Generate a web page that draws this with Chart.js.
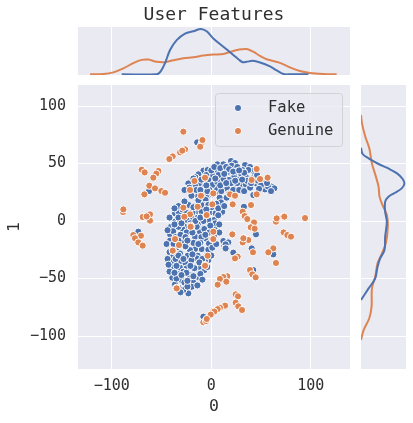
<!DOCTYPE html>
<html>
<head>
<meta charset="utf-8">
<title>User Features</title>
<script src="https://cdn.jsdelivr.net/npm/chart.js@4/dist/chart.umd.min.js"></script>
<style>
  body { margin: 0; background: #fff; width: 413px; height: 423px; overflow: hidden; position: relative; }
  canvas { position: absolute; }
  #top-kde { left: 78px; top: 0; }
  #main { left: 0; top: 85px; }
  #right-kde { left: 361px; top: 85px; }
</style>
</head>
<body>
<canvas id="top-kde" width="272" height="75"></canvas>
<canvas id="main" width="350" height="338"></canvas>
<canvas id="right-kde" width="45" height="284"></canvas>
<script>
const chartTitle = "User Features";
const seriesNames = ["Fake", "Genuine"];
const seriesColors = ["#4C72B0", "#DD8452"];
const xTicks = [-100, 0, 100];
const yTicks = [-100, -50, 0, 50, 100];
const xLabel = "0";
const yLabel = "1";

// t-SNE points as [x, y]
const fakePoints = [
  [6.1,49.3],[12.1,49.3],[19.8,52.2],[23.8,50.4],[20.5,48.1],[26.1,47],[33.9,48.7],[38.9,47],[42.2,43.5],[37.2,44.4],
  [31.2,44.4],[-8,43.8],[-3.7,44.4],[-13,40.6],[5.4,43.8],[10.4,42.3],[17.1,42.9],[23.1,38.6],[17.8,35.7],[12.1,36.5],
  [7.1,40],[1,39.4],[-3,35.7],[-7,31.9],[-12.4,32.7],[-16.4,30.7],[-23.1,32.7],[-19,25.5],[-13.7,21.2],[-4.6,21.2],
  [-5.7,18.3],[1,23.2],[5.4,28.4],[1,31.3],[13,30.7],[8,23.2],[8.4,20.3],[15.4,20.3],[9.7,16.2],[28.8,36.5],
  [29.9,31.3],[24.5,29.9],[34.6,31.9],[34.6,38.6],[43.9,40],[44.9,32.7],[53.3,34.8],[53.9,27.5],[60.6,29.9],[63.3,28.4],
  [42.2,22.6],[32.8,12.4],[-36.5,6.7],[-32.5,7.5],[-40.5,-4.1],[-30.5,-0.6],[-36.5,-0.6],[-13.7,8.1],[-9.7,8.1],[-19,7.5],
  [-13.7,2.9],[-6.4,13.9],[-1.3,7.5],[4.4,6.7],[3,0.9],[-3,0.9],[-8,0],[-13.7,-2.9],[3,-6.4],[-8,-6.4],
  [-26.4,-5],[-19.7,2.3],[-40.5,-5],[-41.5,-11.6],[-41.5,-17.1],[-38.2,-8.7],[-29.1,-7],[-24.8,-9.9],[-29.8,-12.8],[-23.1,-18],
  [-16.4,-13.7],[-11.4,-9.3],[-14.7,-5],[-7,-7],[-5.7,-15.1],[-2.3,-19.5],[1,-23.8],[-9.7,-24.4],[-16.4,-24.4],[-21.4,-25.3],
  [-31.5,-28.2],[-23.8,-30.2],[-13.7,-30.2],[-4.7,-29.6],[-3,-34],[-6.4,-34.8],[-14.7,-32.5],[-39.8,-36],[-31.5,-36],[-25.8,-36.9],
  [-39.2,-40.6],[-31.5,-40.6],[-24.8,-41.2],[-28.1,-44.1],[-39.2,-49.3],[-29.8,-51.4],[-36.5,-55.1],[-27.1,-53.4],[-18.1,-53.4],[-13.7,-48.5],
  [-7,-42.7],[-12.4,-39.8],[-19.7,-57.2],[-23.1,-62.9],[-28.1,-60],[13.1,-21.5],[13.8,-17.4],[22.1,-28.2],[16.4,-18],
  [-16,38],[-10,36],[-5,40],[0,44],[3,47],[9,46],[15,47],[18,45],[25,43],[30,41],[36,35],[41,37],[47,35],[50,31],[57,30],[60,26],
  [20,33],[26,33],[16,28],[6,34],[-2,27],[-8,25],[-15,27],[-20,22],[-10,14],[-15,13],[-23,14],[-29,10],[-33,3],[-25,1],[-21,-2],
  [-16,0],[-11,3],[-5,5],[0,12],[5,15],[4,-2],[8,-10],[-2,-10],[-10,-14],[-20,-5],[-33,-5],[-36,-14],[-28,-18],[-35,-23],[-42,-27],
  [-38,-30],[-26,-22],[-18,-19],[-11,-19],[-3,-25],[3,-14],[-9,-33],[-20,-34],[-17,-41],[-34,-46],[-42,-44],[-22,-47],[-18,-48],[-33,-58],[-11,-46],[-36,-33],
  [-14.2,68.4],[-62.6,26.1],[-73.4,-9.3],[-8,-83.2],[44.9,-11.6],[12.1,-17.4],[17.1,-18.6],[14.4,-20.3],[14.4,-23.8],[1,-23.2],
  [22.1,-27.5],[40.6,-23.8],[62.3,-29],[42.2,-42.6],
  [-27,17],[-33,13],[-37,11],[-42,3],[-44,-8],[-45,-20],[-37,-3],[-31,-12],[-26,-14],[-33,-30],[-44,-33],[-28,-33],[-21,-39],
  [-35,-39],[-43,-38],[-35,-50],[-24,-57],[-31,-62],[-14,-56],[-9,-51],[-4,-40],[0,-30],[5,-20],[8,-3],[11,8],[7,11],[13,13],
  [-3,14],[-13,18],[-4,26],[10,26],[18,24],[22,27],[28,27],[33,26],[39,29],[48,28],[46,40],[33,42],[13,41],[-18,37],[-22,29],[-27,27],
  [-25,7],[-30,-2],[-24,-17],[-38,-20],[-33,-17],[-19,-10],[-13,-20],[-6,-12],[-1,-4],[7,5],[-5,10],[-18,12],[-11,27],[-5,31],
  [4,37],[9,31],[15,33],[24,35],[31,36],[40,33],[56,33],[22,43],[28,44],[-25,-45],[-30,-47],[-37,-45],[-19,-29],[-12,-36],[-24,-52]
];
const genuinePoints = [
  [-17,34.8],[-6.3,37.7],[-21.4,27],[-10.4,22],[2,24],[18.8,23.2],[23.8,22],[21.5,14.5],[1,14.5],[-13.7,12.4],
  [-28.1,11.6],[-21.4,5.8],[-27.1,3.7],[-4.7,5.2],[-20.8,-4],[40.5,35.7],[49,36.5],[56.6,37.7],[45.6,45.2],[39.9,13.9],
  [31.5,8.1],[34.6,3.7],[42.6,-1.5],[40.5,-5.5],[65.7,0],[72.4,3.7],[45.6,23.2],
  [-28.1,77.7],[-9.7,67.6],[-8.9,70.4],[-11.2,64.6],[-26.4,62.3],[-31.4,59.7],[-38.8,56.2],[-42.2,53.9],[-29.2,61.2],
  [-70,44.6],[-67,42.3],[-53.2,43.5],[-55.3,41.2],[-58.3,37.7],[-62.3,30.7],[-56.6,28.4],[-50.2,26.1],[-46.5,24.6],[-67.3,23.2],
  [-88.7,7.8],[-88.4,10.1],[-69,3.5],[-61.6,5.8],[-61.6,0.3],[-65,4],
  [-78.4,-12.2],[-70.7,-12.8],[-76.7,-15],[-73.4,-18.6],[-69,-21.4],
  [-8,-88.1],[-5.3,-87],[-1.3,-81.7],[2,-78.3],[-38.2,-26],[-34.8,-58],[-6.3,-38.3],
  [33.5,4.3],[36.2,1.7],[42.9,-1.2],[39.6,-5.5],[43.6,-6.7],[65,-0.6],[65.7,2.3],[73.4,3.8],[94.2,2.6],
  [72.7,-9.9],[76.4,-12.2],[80.1,-13.6],[21.1,-11.6],[32.2,-14.5],[37.2,-16.5],[31.5,-18.6],[1,-15.7],
  [24.5,-32.5],[26.5,-31],[41.9,-27.2],[62.3,-23.8],[57.3,-27.2],[65,-36.5],[38.9,-42.6],[41.2,-46.4],[44.6,-49],
  [16.1,-48.1],[12.1,-48.7],[8.7,-50.4],[15.1,-52.8],[6.4,-55.4],[24.5,-63.8],[26.8,-65.5],[24.5,-71],[27.1,-74.2],[30.9,-77.4],
  [13.8,-73.6],[8.7,-75.4],[6.4,-76.6],[3,-78.8],[-0.6,-81.4],[-4.6,-85.2],
  [-38.8,-25.8],[-36.5,-15.7],[2,-15.7],[-20.8,-5],[-6.3,-38.9],[-3.7,-30.2],[-34.8,-58.6],[-32.5,-20.9],[2,-9.3],[32.2,-15],[23.8,-32.5]
];

// marginal densities: position and relative height
const fakeTopX = [-90.1,-54.9,-50.9,-46.5,-41.5,-34.8,-26.4,-18.1,-10.4,-4.7,2,12.1,22.1,27.2,31.5,35.5,41.6,49,59,65.7,72.4,79.1,97.5];
const fakeTopH = [1.4,1.4,7.5,24.7,52,72.6,86.3,91,96,91,76,59,41.8,32.9,26.7,27.4,29.5,26,17.8,9.6,2,1.4,1.4];
const genuineTopX = [-121.9,-108.5,-98.5,-88.4,-78.4,-70,-63.3,-54.9,-46.5,-38.2,-28.1,-18.1,-8,2,12.1,18.8,27.2,35.5,42.2,49,55.6,69,79.1,89.1,99.2,112.6,126];
const genuineTopH = [1.4,2,5.5,13.7,24.7,31.5,32.2,27.4,26.7,30.8,34.9,37,40.4,42.5,43.8,47.9,52.7,54.1,48.6,39.7,32.9,25.3,15.8,8.2,4.1,2,1.4];
const fakeRightY = [63.8,58.3,54.5,49.6,45.5,41.4,36.5,32.2,28.4,24.6,21.2,16.8,8.1,-0.6,-13.6,-25.2,-32.5,-39.7,-49.9,-58.6,-68.7];
const fakeRightH = [0,3.7,16.9,39,61.8,80.1,92.6,96.3,90.4,75.7,61,53.7,53.7,57.4,53.7,52.2,42.6,36.8,31.6,16.9,0];
const genuineRightY = [92.2,84.9,73.3,63.2,50.1,38.6,29.9,21.2,13.9,5.2,-4.9,-19.4,-29.6,-36.8,-48.4,-58.6,-74.5,-84.6,-94.8,-103.5];
const genuineRightH = [0,2.2,9.6,18.4,24.3,33.1,39,41.2,47.8,57.4,59.6,55.1,44.9,36.8,31.6,24.3,23.5,18.4,5.9,0];

const xRange = [-134, 139.4];
const yRange = [-128.7, 118.3];
const panelColor = "#EAEAF2";
const textColor = "#2f2f2f";
const monoFont = "'DejaVu Sans Mono', monospace";

const panelBackground = {
  id: "panelBackground",
  beforeDraw(chart) {
    let a = chart.chartArea;
    chart.ctx.fillStyle = panelColor;
    chart.ctx.fillRect(a.left, a.top, a.right - a.left, a.bottom - a.top);
  },
};

// legend sits inside the axes with a translucent frame, like matplotlib does
const frameLegend = {
  id: "frameLegend",
  afterDatasetsDraw(chart) {
    let ctx = chart.ctx;
    ctx.save();
    ctx.beginPath();
    ctx.roundRect(215.5, 8.5, 127, 53, 3);
    ctx.fillStyle = "rgba(234,234,242,0.8)";
    ctx.fill();
    ctx.strokeStyle = "#d2d2d6";
    ctx.lineWidth = 1;
    ctx.stroke();
    ctx.font = "15.5px " + monoFont;
    ctx.textBaseline = "middle";
    seriesNames.forEach((name, i) => {
      let y = 23 + i * 23;
      ctx.beginPath();
      ctx.arc(238, y, 3.6, 0, Math.PI * 2);
      ctx.fillStyle = seriesColors[i];
      ctx.fill();
      ctx.strokeStyle = "#fff";
      ctx.stroke();
      ctx.fillStyle = textColor;
      ctx.fillText(name, 268, y);
    });
    ctx.restore();
  },
};

function toPoints(list) {
  return list.map((p) => ({ x: p[0], y: p[1] }));
}

function zip(xs, ys) {
  return xs.map((x, i) => ({ x: x, y: ys[i] }));
}

function kdeDataset(data, color) {
  return { data: data, borderColor: color, borderWidth: 2, pointRadius: 0, tension: 0.35, fill: false };
}

new Chart(document.getElementById("main"), {
  type: "scatter",
  data: {
    datasets: [
      { label: seriesNames[0], data: toPoints(fakePoints), backgroundColor: seriesColors[0], borderColor: "#fff", borderWidth: 1, pointRadius: 3.6, order: 2 },
      { label: seriesNames[1], data: toPoints(genuinePoints), backgroundColor: seriesColors[1], borderColor: "#fff", borderWidth: 1, pointRadius: 3.6, order: 1 },
    ],
  },
  options: {
    responsive: false,
    animation: false,
    layout: { padding: 0, autoPadding: false },
    plugins: { legend: { display: false }, tooltip: { enabled: false } },
    scales: {
      x: {
        min: xRange[0],
        max: xRange[1],
        afterBuildTicks: (s) => { s.ticks = xTicks.map((v) => ({ value: v })); },
        afterFit: (s) => { s.height = 54; s.paddingLeft = 0; s.paddingRight = 0; },
        grid: { color: "#fff", lineWidth: 1, drawTicks: false },
        border: { display: false },
        ticks: {
          padding: 8,
          color: textColor,
          maxRotation: 0,
          font: { family: monoFont, size: 15 },
          callback: (v) => String(v).replace("-", "\u2212"),
        },
        title: { display: true, text: xLabel, color: textColor, padding: { top: 0, bottom: 6 }, font: { family: monoFont, size: 16.5 } },
      },
      y: {
        min: yRange[0],
        max: yRange[1],
        afterBuildTicks: (s) => { s.ticks = yTicks.map((v) => ({ value: v })); },
        afterFit: (s) => { s.width = 78; s.paddingTop = 0; s.paddingBottom = 0; },
        grid: { color: "#fff", lineWidth: 1, drawTicks: false },
        border: { display: false },
        ticks: {
          padding: 12,
          color: textColor,
          font: { family: monoFont, size: 15 },
          callback: (v) => String(v).replace("-", "\u2212"),
        },
        title: { display: true, text: yLabel, color: textColor, padding: { top: 5, bottom: 0 }, font: { family: monoFont, size: 16.5 } },
      },
    },
  },
  plugins: [panelBackground, frameLegend],
});

new Chart(document.getElementById("top-kde"), {
  type: "line",
  data: {
    datasets: [
      kdeDataset(zip(fakeTopX, fakeTopH), seriesColors[0]),
      kdeDataset(zip(genuineTopX, genuineTopH), seriesColors[1]),
    ],
  },
  options: {
    responsive: false,
    animation: false,
    layout: { padding: 0, autoPadding: false },
    plugins: {
      legend: { display: false },
      tooltip: { enabled: false },
      title: {
        display: true,
        text: chartTitle,
        color: textColor,
        padding: { top: 4.4, bottom: 1 },
        font: { family: monoFont, size: 18, weight: "normal" },
      },
    },
    scales: {
      x: {
        type: "linear",
        min: xRange[0],
        max: xRange[1],
        afterBuildTicks: (s) => { s.ticks = xTicks.map((v) => ({ value: v })); },
        afterFit: (s) => { s.height = 0; },
        grid: { color: "#fff", drawTicks: false },
        border: { display: false },
        ticks: { display: false },
      },
      y: { display: false, min: 0, max: 100 },
    },
  },
  plugins: [panelBackground],
});

new Chart(document.getElementById("right-kde"), {
  type: "line",
  data: {
    datasets: [
      kdeDataset(zip(fakeRightH, fakeRightY), seriesColors[0]),
      kdeDataset(zip(genuineRightH, genuineRightY), seriesColors[1]),
    ],
  },
  options: {
    responsive: false,
    animation: false,
    layout: { padding: 0, autoPadding: false },
    plugins: { legend: { display: false }, tooltip: { enabled: false } },
    scales: {
      x: { type: "linear", display: false, min: 0, max: 100 },
      y: {
        min: yRange[0],
        max: yRange[1],
        afterBuildTicks: (s) => { s.ticks = yTicks.map((v) => ({ value: v })); },
        afterFit: (s) => { s.width = 0; },
        grid: { color: "#fff", drawTicks: false },
        border: { display: false },
        ticks: { display: false },
      },
    },
  },
  plugins: [panelBackground],
});
</script>
</body>
</html>
